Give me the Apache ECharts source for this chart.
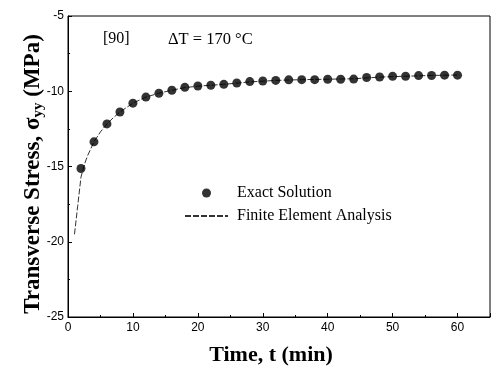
<!DOCTYPE html>
<html>
<head>
<meta charset="utf-8">
<script src="https://cdn.jsdelivr.net/npm/echarts@6/dist/echarts.min.js"></script>
<style>
html,body{margin:0;padding:0;background:#fff;}
#c{width:493px;height:375px;}
</style>
</head>
<body>
<div id="c"></div>
<script>
// Exact solution (dots)
var exactTime = [2,4,6,8,10,12,14,16,18,20,22,24,26,28,30,32,34,36,38,40,42,44,46,48,50,52,54,56,58,60];
var exactStress = [-15.13,-13.36,-12.17,-11.38,-10.79,-10.39,-10.13,-9.93,-9.74,-9.65,-9.60,-9.54,-9.45,-9.36,-9.32,-9.28,-9.24,-9.23,-9.23,-9.20,-9.20,-9.19,-9.09,-9.05,-9.01,-9.00,-8.96,-8.95,-8.93,-8.93];
// Finite element analysis (dashed line)
var feaTime = [1,1.5,2,2.5,3,4,5,6,7,8,10,12,14,16,18,20,24,28,32,36,40,44,48,52,56,60];
var feaStress = [-19.5,-17.6,-15.7,-14.9,-14.3,-13.36,-12.7,-12.17,-11.75,-11.38,-10.79,-10.39,-10.13,-9.93,-9.76,-9.66,-9.54,-9.38,-9.28,-9.23,-9.20,-9.17,-9.06,-9.00,-8.95,-8.92];
var xTicks = [0,10,20,30,40,50,60];
var yTicks = [-25,-20,-15,-10,-5];

function pairs(xs, ys){ return xs.map(function(x,i){return [x, ys[i]];}); }

var chart = echarts.init(document.getElementById('c'), null, {renderer:'canvas'});
var serif = '"Liberation Serif","Times New Roman",serif';
var sans = '"Liberation Sans",Arial,sans-serif';
chart.setOption({
  animation:false,
  backgroundColor:'#fff',
  grid:{left:68,right:3,top:16,bottom:58,show:true,borderColor:'#000',borderWidth:1,containLabel:false},
  xAxis:{
    type:'value',min:0,max:65,interval:10,
    axisLine:{show:true,onZero:false,lineStyle:{color:'#000',width:1}},
    axisTick:{show:true,inside:true,length:4,lineStyle:{color:'#000'}},
    minorTick:{show:true,splitNumber:2,length:2,lineStyle:{color:'#000'}},
    splitLine:{show:false},
    axisLabel:{color:'#000',fontFamily:sans,fontSize:12,margin:5,
      formatter:function(v){return xTicks.indexOf(v)>=0?String(v):'';}}
  },
  yAxis:{
    type:'value',min:-25,max:-5,interval:5,
    axisLine:{show:true,onZero:false,lineStyle:{color:'#000',width:1}},
    axisTick:{show:true,inside:true,length:4,lineStyle:{color:'#000'}},
    minorTick:{show:true,splitNumber:2,length:2,lineStyle:{color:'#000'}},
    splitLine:{show:false},
    axisLabel:{color:'#000',fontFamily:sans,fontSize:12,margin:4,
      formatter:function(v){return yTicks.indexOf(v)>=0?String(v):'';}}
  },
  legend:{
    orient:'vertical',left:179,top:180,itemWidth:43,itemHeight:9,itemGap:7,
    textStyle:{fontFamily:serif,fontSize:16,color:'#000',lineHeight:16,padding:[0,0,0,4]},
    data:[{name:'Exact Solution',icon:'circle'},
          {name:'Finite Element Analysis',itemStyle:{opacity:0},lineStyle:{opacity:1}}]
  },
  series:[
    {name:'Finite Element Analysis',type:'line',data:pairs(feaTime,feaStress),symbol:'none',showSymbol:false,smooth:false,
     lineStyle:{color:'#333',width:1,type:[6,2]},itemStyle:{color:'#333'},z:2},
    {name:'Exact Solution',type:'scatter',data:pairs(exactTime,exactStress),symbol:'circle',symbolSize:9,
     itemStyle:{color:'#000'},z:3}
  ],
  graphic:[
    {type:'text',left:103,top:31,style:{text:'[90]',font:'16px '+serif,fill:'#000'}},
    {type:'text',left:168,top:31,style:{text:'ΔT = 170 °C',font:'16.5px '+serif,fill:'#000'}},
    {type:'text',x:271,y:355,style:{text:'Time, t (min)',font:'bold 22px '+serif,fill:'#000',align:'center',verticalAlign:'middle'}},
    {type:'text',x:33,y:174,rotation:Math.PI/2,
     style:{text:'{a|Transverse Stress, σ}{s|yy}{a| (MPa)}',align:'center',verticalAlign:'middle',fill:'#000',
       rich:{a:{font:'bold 23px '+serif,fill:'#000',lineHeight:26,verticalAlign:'middle'},
             s:{font:'bold 15px '+serif,fill:'#000',lineHeight:26,verticalAlign:'bottom',padding:[11,0,0,0]}}}}
  ]
});
</script>
</body>
</html>
